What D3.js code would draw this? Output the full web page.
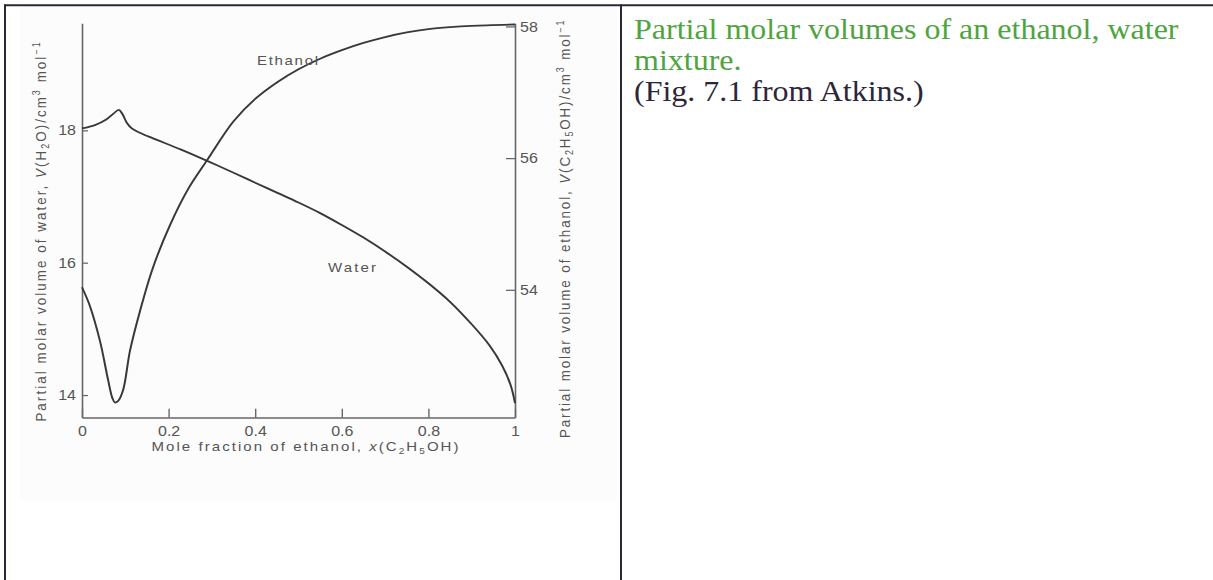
<!DOCTYPE html>
<html>
<head>
<meta charset="utf-8">
<script src="https://cdn.jsdelivr.net/npm/d3@7"></script>
<style>
body { margin: 0; background: #fff; }
svg text { font-family: "Liberation Sans", Arial, sans-serif; }
</style>
</head>
<body>
<svg id="page" width="1213" height="580"></svg>
<script>
// tick values
const xTicks = [0, 0.2, 0.4, 0.6, 0.8, 1];
const waterTicks = [14, 16, 18];
const ethanolTicks = [54, 56, 58];

// water curve, left axis (cm3/mol)
const waterX = [0, 0.03, 0.055, 0.072, 0.085, 0.094, 0.103, 0.115, 0.135, 0.164, 0.229, 0.289, 0.35, 0.4, 0.45, 0.5, 0.55, 0.6, 0.65, 0.7, 0.75, 0.8, 0.85, 0.9, 0.94, 0.97, 0.99, 1.0];
const waterV = [18.03, 18.08, 18.16, 18.25, 18.31, 18.24, 18.12, 18.03, 17.96, 17.88, 17.71, 17.54, 17.36, 17.21, 17.06, 16.91, 16.75, 16.57, 16.38, 16.17, 15.94, 15.69, 15.41, 15.07, 14.76, 14.45, 14.15, 13.88];

// ethanol curve, right axis (cm3/mol)
const ethanolX = [0, 0.018, 0.042, 0.06, 0.07, 0.076, 0.083, 0.095, 0.111, 0.134, 0.164, 0.203, 0.245, 0.289, 0.35, 0.4, 0.45, 0.5, 0.55, 0.6, 0.65, 0.7, 0.75, 0.8, 0.85, 0.9, 1.0];
const ethanolV = [54.04, 53.76, 53.21, 52.64, 52.36, 52.29, 52.31, 52.48, 53.08, 53.68, 54.34, 54.98, 55.53, 55.97, 56.56, 56.90, 57.15, 57.35, 57.51, 57.64, 57.75, 57.84, 57.91, 57.96, 57.99, 58.01, 58.03];

const svg = d3.select("#page");
const ink = "#2d2639";

// the reference page is squeezed vertically, so draw in a taller frame and scale it down
const page = svg.append("g").attr("transform", "scale(1,0.8923)");

// table lines of the page
page.append("rect").attr("x", 20).attr("y", 8).attr("width", 597).attr("height", 554).attr("fill", "#fcfcfc");
page.append("line").attr("x1", 4).attr("x2", 1213).attr("y1", 6).attr("y2", 6).attr("stroke", ink).attr("stroke-width", 2.2);
page.append("line").attr("x1", 5).attr("x2", 5).attr("y1", 5).attr("y2", 650).attr("stroke", ink).attr("stroke-width", 2);
page.append("line").attr("x1", 621).attr("x2", 621).attr("y1", 5).attr("y2", 650).attr("stroke", ink).attr("stroke-width", 2);

// scales
const x = d3.scaleLinear().domain([0, 1]).range([82, 515]);
const yW = d3.scaleLinear().domain([13.66, 19.62]).range([468, 26]);
const yE = d3.scaleLinear().domain([52.06, 58.05]).range([468, 26]);

const chart = page.append("g");

function styleAxis(g) {
    g.attr("font-family", null).attr("font-size", null);
    g.select(".domain").attr("stroke", "#666").attr("stroke-width", 1.6);
    g.selectAll(".tick line").attr("stroke", "#666").attr("stroke-width", 1.4);
    g.selectAll(".tick text").attr("fill", "#555").attr("font-size", 16);
}

chart.append("g")
    .attr("transform", "translate(0,468)")
    .call(d3.axisBottom(x).tickValues(xTicks).tickFormat(d3.format("~g"))
        .tickSizeInner(-10).tickSizeOuter(0).tickPadding(9))
    .call(styleAxis);

chart.append("g")
    .attr("transform", "translate(82,0)")
    .call(d3.axisLeft(yW).tickValues(waterTicks).tickFormat(d3.format("d"))
        .tickSizeInner(-6).tickSizeOuter(0).tickPadding(6))
    .call(styleAxis);

chart.append("g")
    .attr("transform", "translate(515,0)")
    .call(d3.axisRight(yE).tickValues(ethanolTicks).tickFormat(d3.format("d"))
        .tickSizeInner(-9).tickSizeOuter(0).tickPadding(5))
    .call(styleAxis);

// curves
const waterLine = d3.line()
    .x(i => x(waterX[i]))
    .y(i => yW(waterV[i]))
    .curve(d3.curveCatmullRom.alpha(0.5));

const ethanolLine = d3.line()
    .x(i => x(ethanolX[i]))
    .y(i => yE(ethanolV[i]))
    .curve(d3.curveCatmullRom.alpha(0.5));

chart.append("path")
    .attr("d", waterLine(d3.range(waterX.length)))
    .attr("fill", "none").attr("stroke", "#383838").attr("stroke-width", 2).attr("stroke-linejoin", "round");

chart.append("path")
    .attr("d", ethanolLine(d3.range(ethanolX.length)))
    .attr("fill", "none").attr("stroke", "#383838").attr("stroke-width", 2).attr("stroke-linejoin", "round");

// text with sub/superscripts
function richText(t, parts) {
    let shift = 0;
    parts.forEach(([s, kind]) => {
        const ts = t.append("tspan").text(s);
        let target = 0;
        if (kind === "i") ts.attr("font-style", "italic");
        if (kind === "sub") { ts.attr("font-size", 10); target = 3; }
        if (kind === "sup") { ts.attr("font-size", 10); target = -6; }
        if (target !== shift) ts.attr("dy", target - shift);
        shift = target;
    });
}

const titleStyle = t => t.attr("fill", "#555").attr("font-size", 15).attr("text-anchor", "middle").attr("lengthAdjust", "spacing");

const xt = chart.append("text").attr("x", 305).attr("y", 506).call(titleStyle).attr("textLength", 307);
richText(xt, [["Mole fraction of ethanol, ", "n"], ["x", "i"], ["(C", "n"], ["2", "sub"], ["H", "n"], ["5", "sub"], ["OH)", "n"]]);

const lt = chart.append("text").attr("transform", "translate(46,260) rotate(-90)").call(titleStyle).attr("textLength", 425);
richText(lt, [["Partial molar volume of water, ", "n"], ["V", "i"], ["(H", "n"], ["2", "sub"], ["O)/cm", "n"], ["3", "sup"], [" mol", "n"], ["\u22121", "sup"]]);

const rt = chart.append("text").attr("transform", "translate(570,257) rotate(-90)").call(titleStyle).attr("textLength", 468);
richText(rt, [["Partial molar volume of ethanol, ", "n"], ["V", "i"], ["(C", "n"], ["2", "sub"], ["H", "n"], ["5", "sub"], ["OH)/cm", "n"], ["3", "sup"], [" mol", "n"], ["\u22121", "sup"]]);

chart.append("text").attr("x", 257).attr("y", 73).attr("fill", "#555").attr("font-size", 15)
    .attr("textLength", 61).attr("lengthAdjust", "spacing").text("Ethanol");
chart.append("text").attr("x", 328).attr("y", 305).attr("fill", "#555").attr("font-size", 15)
    .attr("textLength", 48).attr("lengthAdjust", "spacing").text("Water");

// caption in the right cell
const caption = page.append("g").attr("font-size", 32);
caption.append("text").attr("x", 634).attr("y", 44).attr("fill", "#4fa43f")
    .style("font-family", "'Liberation Serif', 'Times New Roman', serif").text("Partial molar volumes of an ethanol, water");
caption.append("text").attr("x", 634).attr("y", 79).attr("fill", "#4fa43f")
    .style("font-family", "'Liberation Serif', 'Times New Roman', serif").text("mixture.");
caption.append("text").attr("x", 634).attr("y", 113).attr("fill", ink)
    .style("font-family", "'Liberation Serif', 'Times New Roman', serif").text("(Fig. 7.1 from Atkins.)");
</script>
</body>
</html>
